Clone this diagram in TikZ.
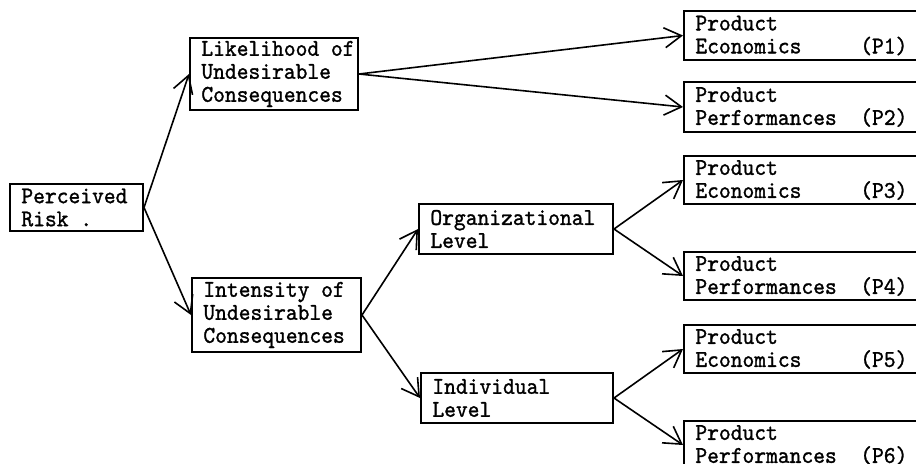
\documentclass[tikz,border=0pt]{standalone}
\usepackage{fontspec}
\setmonofont{lmmono10-regular.otf}[FakeBold=1.2, FakeStretch=0.935]
\usetikzlibrary{arrows.meta}

\begin{document}
\begin{tikzpicture}[x=0.5pt, y=-0.5pt,
  box/.style={draw, line width=1pt, anchor=north west, inner sep=0pt},
  txt/.style={anchor=west, align=left, inner xsep=6pt, inner ysep=0pt,
    font=\fontsize{12}{11.5}\selectfont\ttfamily},
  ptxt/.style={txt, text width=106pt},
  link/.style={line width=0.8pt, -{Straight Barb[length=8.5pt, width=10pt]}}]
  \useasboundingbox (0,0) rectangle (916,463);
  \clip (0,0) rectangle (916,463);
  % Root
  \node[box, minimum width=66.5pt, minimum height=23.5pt] (risk) at (9,183) {};
  \node[txt] at (risk.west) {Perceived\\Risk .};
  % Two components
  \node[box, minimum width=84pt, minimum height=36pt] (like) at (189,37) {};
  \node[txt] at (like.west) {Likelihood of\\Undesirable\\Consequences};
  \node[box, minimum width=84.5pt, minimum height=37pt] (inten) at (191,277) {};
  \node[txt] at (inten.west) {Intensity of\\Undesirable\\Consequences};
  % Levels
  \node[box, minimum width=97pt, minimum height=25pt] (org) at (418,203) {};
  \node[txt] at (org.west) {Organizational\\Level};
  \node[box, minimum width=96pt, minimum height=25pt] (indiv) at (420,372) {};
  \node[txt] at (indiv.west) {Individual\\Level};
  % Product boxes (run off the right edge)
  \node[box, minimum width=128.5pt, minimum height=24.5pt] (p1) at (683,10) {};
  \node[ptxt] at (p1.west) {Product\\Economics\hfill(P1)};
  \node[box, minimum width=128.5pt, minimum height=25pt] (p2) at (683,81) {};
  \node[ptxt] at (p2.west) {Product\\Performances\hfill(P2)};
  \node[box, minimum width=128.5pt, minimum height=24pt] (p3) at (683,155) {};
  \node[ptxt] at (p3.west) {Product\\Economics\hfill(P3)};
  \node[box, minimum width=128.5pt, minimum height=24pt] (p4) at (683,251) {};
  \node[ptxt] at (p4.west) {Product\\Performances\hfill(P4)};
  \node[box, minimum width=128.5pt, minimum height=24pt] (p5) at (683,324) {};
  \node[ptxt] at (p5.west) {Product\\Economics\hfill(P5)};
  \node[box, minimum width=128.5pt, minimum height=24pt] (p6) at (683,420) {};
  \node[ptxt] at (p6.west) {Product\\Performances\hfill(P6)};
  % Arrows
  \draw[link] (risk.east) -- (like.west);
  \draw[link] (risk.east) -- (inten.west);
  \draw[link] (like.east) -- (p1.west);
  \draw[link] (like.east) -- (p2.west);
  \draw[link] (inten.east) -- (org.west);
  \draw[link] (inten.east) -- (indiv.west);
  \draw[link] (org.east) -- (p3.west);
  \draw[link] (org.east) -- (p4.west);
  \draw[link] (indiv.east) -- (p5.west);
  \draw[link] (indiv.east) -- (p6.west);
\end{tikzpicture}
\end{document}
